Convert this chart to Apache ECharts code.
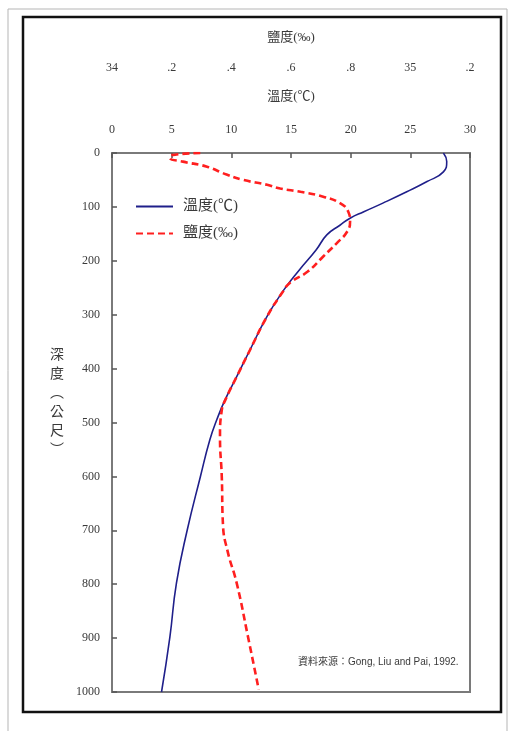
<!DOCTYPE html>
<html lang="zh-Hant">
  <head>
    <meta charset="UTF-8" />
    <title>溫度鹽度剖面</title>
    <script src="https://cdn.jsdelivr.net/npm/echarts@6/dist/echarts.min.js"></script>
    <style>
      html, body { margin: 0; padding: 0; background: #fff; }
      #main { width: 509px; height: 731px; }
    </style>
  </head>
  <body>
    <div id="main"></div>
    <script>
      // 溫度 (°C) 隨深度
      var tempDepth = [0, 16, 35, 53, 72, 93, 109, 121, 134, 152, 180, 217, 254, 304, 365, 415, 458, 495, 532, 601, 700, 798, 898, 1000];
      var tempVals = [27.77, 28.05, 27.77, 26.4, 24.7, 22.7, 21.1, 19.95, 19.1, 18.0, 17.1, 15.7, 14.4, 12.97, 11.57, 10.45, 9.47, 8.78, 8.2, 7.4, 6.3, 5.4, 4.85, 4.15];
      // 鹽度 (‰) 隨深度
      var salDepth = [0, 4, 9, 16, 25, 40, 50, 59, 66, 72, 81, 93, 109, 127, 146, 168, 192, 220, 241, 258, 304, 365, 415, 458, 477, 526, 601, 690, 740, 798, 898, 996];
      var salVals = [34.296, 34.2, 34.194, 34.238, 34.316, 34.384, 34.44, 34.52, 34.564, 34.632, 34.708, 34.764, 34.792, 34.798, 34.788, 34.752, 34.708, 34.656, 34.596, 34.572, 34.519, 34.463, 34.418, 34.38, 34.368, 34.362, 34.368, 34.372, 34.388, 34.418, 34.456, 34.492];

      var serif = "'Liberation Serif', 'Noto Sans CJK TC', serif";
      var txtColor = "#3a3a3a";

      function pairs(xs, ys) {
        return xs.map(function (x, i) { return [x, ys[i]]; });
      }

      var myChart = echarts.init(document.getElementById("main"));
      var option = {
        backgroundColor: "#fff",
        animation: false,
        grid: {
          left: 112, top: 153, width: 358, height: 539,
          show: true, borderColor: "#7a7a7a", borderWidth: 2, backgroundColor: "transparent"
        },
        legend: {
          left: 135, top: 199, orient: "vertical", padding: 0,
          itemWidth: 37, itemHeight: 14, itemGap: 12,
          itemStyle: { opacity: 0 },
          textStyle: { fontFamily: serif, fontSize: 15, color: txtColor, padding: [0, 0, 0, 5] },
          data: ["溫度(℃)", "鹽度(‰)"]
        },
        xAxis: [
          {
            type: "value", position: "top", min: 0, max: 30, interval: 5,
            name: "溫度(℃)", nameLocation: "middle", nameGap: 50,
            nameTextStyle: { fontFamily: serif, fontSize: 13, color: txtColor },
            axisLine: { show: false },
            axisTick: { show: true, inside: true, length: 5, lineStyle: { color: "#555", width: 1.5 } },
            axisLabel: { margin: 17, fontFamily: serif, fontSize: 12, color: txtColor },
            splitLine: { show: false }
          },
          {
            type: "value", position: "top", offset: 62, min: 34, max: 35.2, interval: 0.2,
            name: "鹽度(‰)", nameLocation: "middle", nameGap: 47,
            nameTextStyle: { fontFamily: serif, fontSize: 13, color: txtColor },
            axisLine: { show: false },
            axisTick: { show: false },
            axisLabel: {
              margin: 17, fontFamily: serif, fontSize: 12, color: txtColor,
              formatter: function (v) {
                var r = Math.round(v * 10) / 10;
                if (Math.abs(r - Math.round(r)) < 1e-6) return String(Math.round(r));
                return "." + Math.round((r - Math.floor(r)) * 10);
              }
            },
            splitLine: { show: false }
          }
        ],
        yAxis: {
          type: "value", inverse: true, min: 0, max: 1000, interval: 100,
          axisLine: { show: false },
          axisTick: { show: true, inside: true, length: 5, lineStyle: { color: "#555", width: 1.5 } },
          axisLabel: { margin: 12, fontFamily: serif, fontSize: 12, color: txtColor, formatter: function (v) { return String(v); } },
          splitLine: { show: false }
        },
        series: [
          {
            name: "溫度(℃)", type: "line", xAxisIndex: 0, smooth: 0.5, symbol: "none",
            lineStyle: { color: "#1f1f8a", width: 1.6 },
            itemStyle: { color: "#1f1f8a" },
            data: pairs(tempVals, tempDepth)
          },
          {
            name: "鹽度(‰)", type: "line", xAxisIndex: 1, smooth: 0.5, symbol: "none",
            lineStyle: { color: "#ff1f1f", width: 2.6, type: [7, 4] },
            itemStyle: { color: "#ff1f1f" },
            data: pairs(salVals, salDepth)
          }
        ],
        graphic: [
          { type: "rect", shape: { x: 8, y: 9, width: 499, height: 730 }, style: { fill: "none", stroke: "#b5b5b5", lineWidth: 1 }, z: 0 },
          { type: "rect", shape: { x: 23, y: 17, width: 478, height: 695 }, style: { fill: "none", stroke: "#111", lineWidth: 2.5 }, z: 0 },
          {
            type: "text", left: 50, top: 344, z: 10,
            style: { text: "深\n度\n︵\n公\n尺\n︶", font: "14px 'Noto Sans CJK TC', sans-serif", fill: txtColor, lineHeight: 19, align: "center" }
          },
          {
            type: "text", left: 298, top: 657, z: 10,
            style: { text: "資料來源：Gong, Liu and Pai, 1992.", font: "10px 'Liberation Sans', 'Noto Sans CJK TC', sans-serif", fill: txtColor }
          }
        ]
      };
      myChart.setOption(option);
    </script>
  </body>
</html>
